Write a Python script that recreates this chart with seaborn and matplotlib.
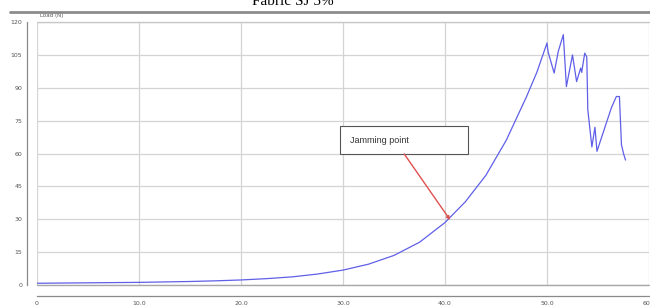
import matplotlib
matplotlib.use("Agg")
import matplotlib.pyplot as plt
import seaborn as sns
import pandas as pd
from matplotlib.lines import Line2D
from matplotlib.patches import Rectangle
from matplotlib.ticker import MultipleLocator, FixedLocator

# ---- data ----
extension = [0, 2.5, 5, 7.5, 10, 12.5, 15, 17.5, 20, 22.5, 25, 27.5, 30, 32.5, 35,
             37.5, 40, 42, 44, 46, 48, 49, 50.0,
             50.1, 50.7, 51.1, 51.6, 51.9, 52.5, 52.9, 53.3, 53.4, 53.7, 53.9,
             54.0, 54.4, 54.7, 54.9, 56.3, 56.8, 57.1, 57.2, 57.3, 57.5, 57.7]
force = [0.8, 0.9, 1.0, 1.1, 1.2, 1.4, 1.6, 1.9, 2.3, 2.9, 3.7, 5.0, 6.8, 9.5, 13.5,
         19.5, 28.5, 38, 50, 66, 86, 97, 110.4,
         106.5, 96.7, 106.5, 114.2, 90.5, 105, 92.8, 99, 97, 105.8, 104,
         80, 63, 72, 61, 80.7, 86, 86, 75, 64, 60, 57]
x_ticks = [0, 10, 20, 30, 40, 50, 60]
x_tick_labels = ["0", "10.0", "20.0", "30.0", "40.0", "50.0", "60.0"]
y_ticks = [0, 15, 30, 45, 60, 75, 90, 105, 120]
y_tick_labels = ["0", "15", "30", "45", "60", "75", "90", "105", "120"]
title = "Fabric SJ 5%"
y_unit = "Load (N)"
note = "Jamming point"
jam_x, jam_y = 40.5, 29.7

df = pd.DataFrame({"ext": extension, "force": force})

sns.set_theme(style="white")
W, H = 650, 306
fig = plt.figure(figsize=(6.5, 3.06), dpi=100)
ax = fig.add_axes([37 / W, 1 - 285 / H, (649 - 37) / W, (285 - 22) / H])

sns.lineplot(data=df, x="ext", y="force", sort=False, estimator=None,
             color="#5f5fe8", lw=0.9, ax=ax)

ax.set_xlim(0, 60)
ax.set_ylim(0, 120)
ax.set_xlabel("")
ax.set_ylabel("")

ax.xaxis.set_major_locator(FixedLocator(x_ticks))
ax.set_xticklabels(x_tick_labels)
ax.yaxis.set_major_locator(FixedLocator(y_ticks))
ax.set_yticklabels(y_tick_labels)
ax.xaxis.set_minor_locator(MultipleLocator(2))
ax.yaxis.set_minor_locator(MultipleLocator(3))

for s in ["top", "right"]:
    ax.spines[s].set_visible(False)
ax.spines["left"].set_position(("outward", 7))
ax.spines["bottom"].set_position(("outward", 8))
for s in ["left", "bottom"]:
    ax.spines[s].set_color("#8a8a8a")
    ax.spines[s].set_linewidth(0.9)

ax.tick_params(axis="both", which="major", labelsize=4.5, colors="#8a8a8a",
               labelcolor="#555555", length=4, width=0.8, direction="inout", pad=1.5)
ax.tick_params(axis="both", which="minor", colors="#9a9a9a", length=2, width=0.6,
               direction="in")

ax.grid(True, which="major", color="#d4d4d4", lw=0.9)
ax.axhline(0, color="#a8a8a8", lw=1.0, zorder=1, clip_on=False)
ax.axhline(120, color="#c8c8c8", lw=1.0, zorder=1, clip_on=False)

# annotation box
box_x0, box_x1, box_y0, box_y1 = 29.7, 42.25, 59.8, 72.5
ax.add_patch(Rectangle((box_x0, box_y0), box_x1 - box_x0, box_y1 - box_y0,
                       fc="white", ec="#555555", lw=0.8, zorder=4))
ax.text(box_x0 + 1.0, (box_y0 + box_y1) / 2, note, fontsize=6.5,
        family="Liberation Sans", color="#333333", va="center", ha="left", zorder=5)
ax.annotate("", xy=(jam_x, jam_y), xytext=(36.0, box_y0), textcoords="data",
            arrowprops=dict(arrowstyle="-|>", color="#e05050", lw=1.0,
                            mutation_scale=5, shrinkA=0, shrinkB=0), zorder=5)

ax.text(0.3, 122.8, y_unit, fontsize=4, color="#555555", ha="left", va="center")

fig.text(293 / W, 1 - 5 / H, title, family="Liberation Serif", fontsize=11,
         ha="center", va="baseline", color="black")
fig.add_artist(Line2D([10 / W, 1.0], [1 - 12 / H, 1 - 12 / H],
                      transform=fig.transFigure, color="#8c8c8c", lw=2.0))

fig.savefig("out.png", dpi=100)
